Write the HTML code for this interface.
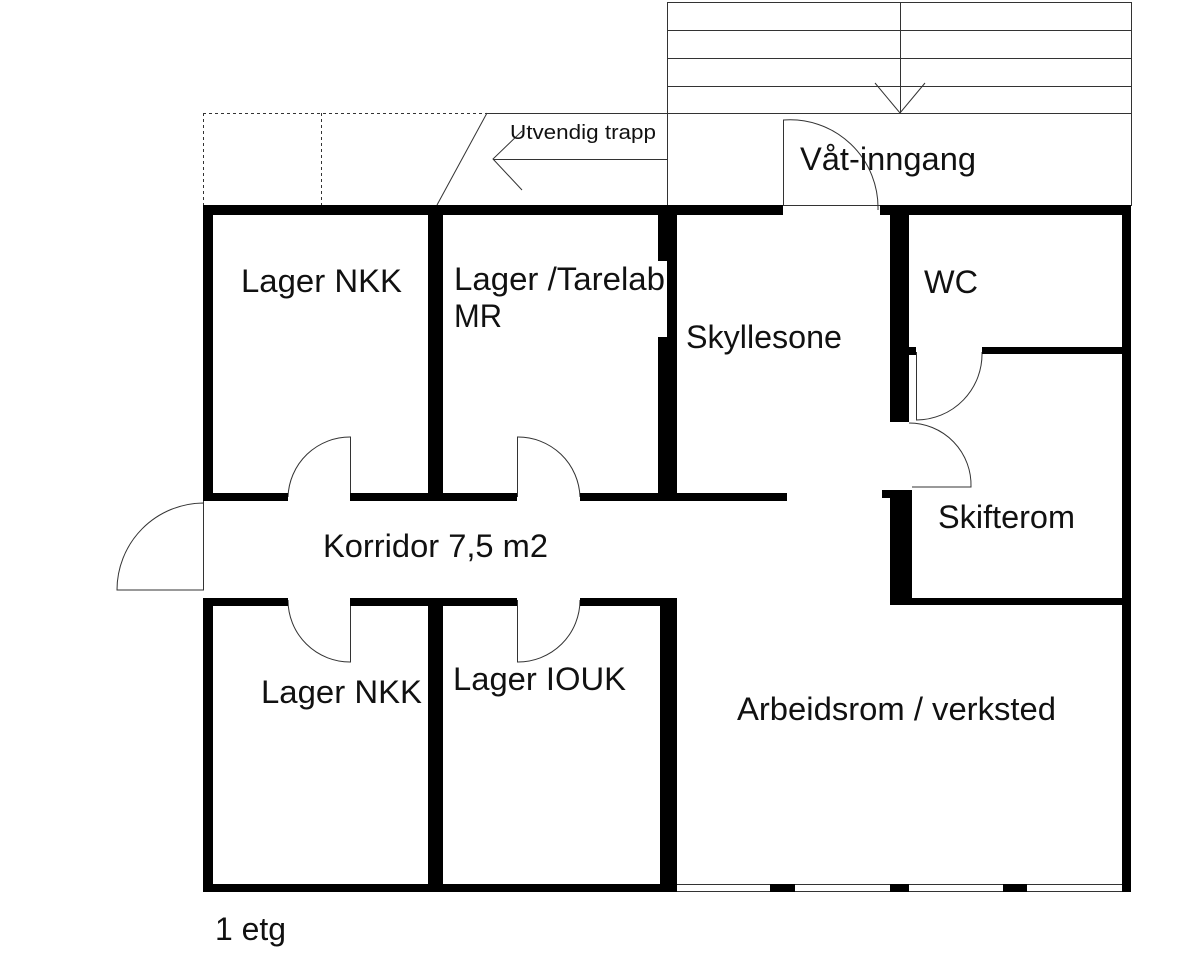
<!DOCTYPE html>
<html><head><meta charset="utf-8"><style>
html,body{margin:0;padding:0;background:#fff}
svg{display:block}
text{font-family:"Liberation Sans",Arial,sans-serif;fill:#111}
</style></head><body>
<svg width="1200" height="957" viewBox="0 0 1200 957" xmlns="http://www.w3.org/2000/svg">
<g stroke="#333" stroke-width="1" fill="none">
<rect x="667.5" y="2.5" width="464" height="203"/>
<line x1="667" y1="30.5" x2="1131" y2="30.5"/>
<line x1="667" y1="58.5" x2="1131" y2="58.5"/>
<line x1="667" y1="86.5" x2="1131" y2="86.5"/>
<line x1="487" y1="113.5" x2="1131" y2="113.5"/>
<line x1="900.5" y1="2" x2="900.5" y2="113"/>
<polyline points="875,83 900,113 925,83"/>
<line x1="487" y1="113" x2="437" y2="205"/>
<line x1="493" y1="159.5" x2="667" y2="159.5"/>
<polyline points="522,131 493,159 522,190"/>
<g stroke-dasharray="3,3">
<line x1="203" y1="113.5" x2="487" y2="113.5"/>
<line x1="203.5" y1="113" x2="203.5" y2="205"/>
<line x1="321.5" y1="113" x2="321.5" y2="205"/>
</g>
<path d="M783.5,205 V120 A88,88 0 0 1 878,210"/>
<path d="M203.5,497 V590 H117 A87,87 0 0 1 203,503"/>
<path d="M350.5,497 V437 A62,62 0 0 0 288,497"/>
<path d="M517.5,497 V437 A62,62 0 0 1 580,497"/>
<path d="M350.5,600 V662 A62,62 0 0 1 288,600"/>
<path d="M517.5,600 V662 A62,62 0 0 0 580,600"/>
<path d="M916.5,352 V420 A66,66 0 0 0 982,352"/>
<path d="M909,423 A62,62 0 0 1 971,487 H912"/>
<line x1="677" y1="884.5" x2="1123" y2="884.5"/>
<line x1="677" y1="891.5" x2="1123" y2="891.5"/>
</g>
<g fill="#000">
<rect x="203" y="205" width="580" height="10"/>
<rect x="880" y="205" width="251" height="10"/>
<rect x="203" y="205" width="10" height="292"/>
<rect x="203" y="600" width="10" height="292"/>
<rect x="1122" y="205" width="9" height="687"/>
<rect x="203" y="884" width="474" height="8"/>
<rect x="770" y="884" width="25" height="8"/>
<rect x="890" y="884" width="19" height="8"/>
<rect x="1003" y="884" width="24" height="8"/>
<rect x="428" y="215" width="15" height="282"/>
<rect x="428" y="600" width="15" height="284"/>
<rect x="658" y="215" width="19" height="46"/>
<rect x="667" y="261" width="10" height="76"/>
<rect x="658" y="337" width="19" height="160"/>
<rect x="660" y="600" width="17" height="284"/>
<rect x="203" y="493" width="85" height="8"/>
<rect x="350" y="493" width="167" height="8"/>
<rect x="580" y="493" width="207" height="8"/>
<rect x="203" y="598" width="85" height="8"/>
<rect x="350" y="598" width="167" height="8"/>
<rect x="580" y="598" width="97" height="8"/>
<rect x="890" y="215" width="19" height="207"/>
<rect x="909" y="347" width="7" height="8"/>
<rect x="982" y="347" width="140" height="7"/>
<rect x="890" y="490" width="22" height="115"/>
<rect x="882" y="490" width="8" height="8"/>
<rect x="890" y="598" width="232" height="7"/>
</g>
<g font-size="32">
<text x="241" y="292" textLength="161" lengthAdjust="spacingAndGlyphs">Lager NKK</text>
<text x="454" y="290" textLength="211" lengthAdjust="spacingAndGlyphs">Lager /Tarelab</text>
<text x="454" y="327" textLength="48" lengthAdjust="spacingAndGlyphs">MR</text>
<text x="686" y="348" textLength="156" lengthAdjust="spacingAndGlyphs">Skyllesone</text>
<text x="924" y="293" textLength="54" lengthAdjust="spacingAndGlyphs">WC</text>
<text x="938" y="528" textLength="137" lengthAdjust="spacingAndGlyphs">Skifterom</text>
<text x="323" y="557" textLength="225" lengthAdjust="spacingAndGlyphs">Korridor 7,5 m2</text>
<text x="261" y="703" textLength="161" lengthAdjust="spacingAndGlyphs">Lager NKK</text>
<text x="453" y="690" textLength="173" lengthAdjust="spacingAndGlyphs">Lager IOUK</text>
<text x="737" y="720" textLength="319" lengthAdjust="spacingAndGlyphs">Arbeidsrom / verksted</text>
<text x="800" y="170" textLength="176" lengthAdjust="spacingAndGlyphs">Våt-inngang</text>
<text x="215" y="940" textLength="71" lengthAdjust="spacingAndGlyphs">1 etg</text>
</g>
<text x="510" y="139" font-size="20" textLength="146" lengthAdjust="spacingAndGlyphs">Utvendig trapp</text>
</svg>
</body></html>
